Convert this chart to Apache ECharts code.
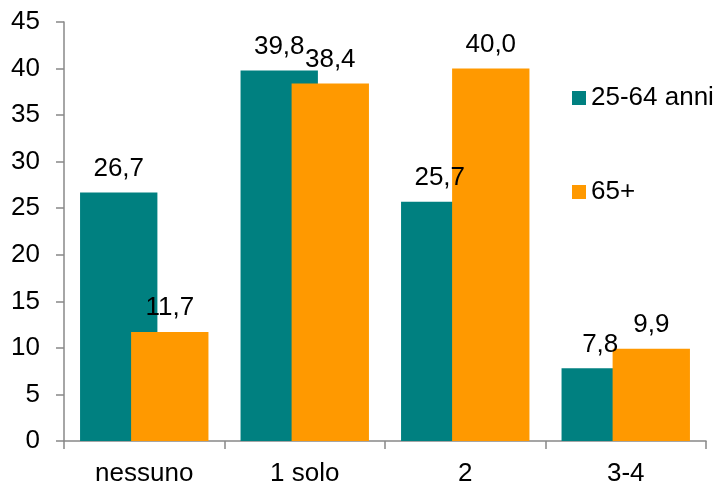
<!DOCTYPE html>
<html>
<head>
<meta charset="utf-8">
<script src="https://cdn.jsdelivr.net/npm/echarts@6/dist/echarts.min.js"></script>
<style>html,body{margin:0;padding:0;background:#fff;}#c{width:720px;height:487px;}</style>
</head>
<body>
<div id="c"></div>
<script>
var categories = ['nessuno', '1 solo', '2', '3-4'];
var seriesNames = ['25-64 anni', '65+'];
var values2564 = [26.7, 39.8, 25.7, 7.8];
var values65 = [11.7, 38.4, 40.0, 9.9];
var yTicks = { min: 0, max: 45, interval: 5 };

var FONT = 'Liberation Sans, Arial, sans-serif';
var FS = 26;
var chart = echarts.init(document.getElementById('c'), null, { renderer: 'canvas' });
function fmt(p) { return p.value.toFixed(1).replace('.', ','); }
var labelStyle = { show: true, position: 'top', distance: 11, formatter: fmt, color: '#000', fontSize: FS, fontFamily: FONT };
chart.setOption({
  animation: false,
  backgroundColor: '#fff',
  grid: { left: 64, right: 14, top: 22, bottom: 44, containLabel: false },
  legend: {
    orient: 'vertical', left: 567, top: 80,
    itemWidth: 14, itemHeight: 14, itemGap: 68, icon: 'rect',
    textStyle: { fontSize: FS, fontFamily: FONT, color: '#000' },
    data: seriesNames
  },
  xAxis: {
    type: 'category', data: categories,
    axisLine: { lineStyle: { color: '#888', width: 1.5 } },
    axisTick: { show: true, length: 8, inside: false, lineStyle: { color: '#888', width: 1.5 } },
    axisLabel: { color: '#000', fontSize: FS, fontFamily: FONT, margin: 20 },
    splitLine: { show: false }
  },
  yAxis: {
    type: 'value', min: yTicks.min, max: yTicks.max, interval: yTicks.interval,
    axisLine: { show: true, lineStyle: { color: '#888', width: 1.5 } },
    axisTick: { show: true, length: 8, lineStyle: { color: '#888', width: 1.5 } },
    axisLabel: { color: '#000', fontSize: FS, fontFamily: FONT, margin: 24 },
    splitLine: { show: false }
  },
  series: [
    { name: seriesNames[0], type: 'bar', data: values2564, barGap: '-34%', barCategoryGap: '20%',
      itemStyle: { color: '#008080' }, label: labelStyle },
    { name: seriesNames[1], type: 'bar', data: values65, barGap: '-34%', barCategoryGap: '20%',
      itemStyle: { color: '#FF9900' }, label: labelStyle }
  ]
});
</script>
</body>
</html>
